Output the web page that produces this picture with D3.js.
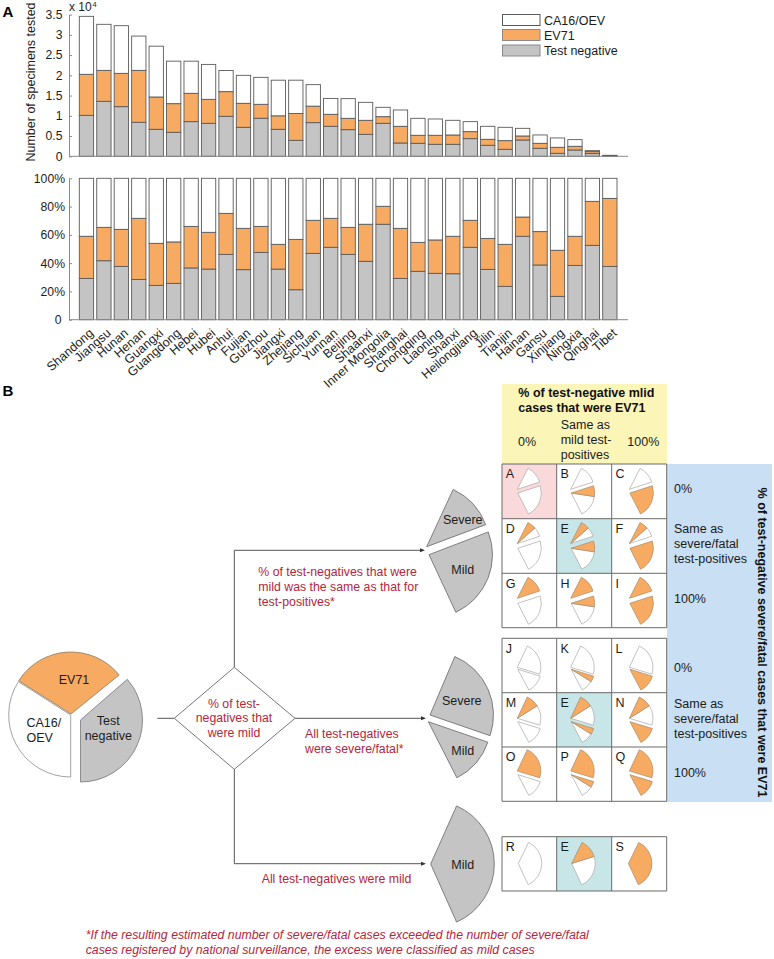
<!DOCTYPE html>
<html><head><meta charset="utf-8">
<script src="https://d3js.org/d3.v7.min.js"></script>
<style>html,body{margin:0;padding:0;background:#fff}svg{display:block}text{font-family:"Liberation Sans",Arial,sans-serif}</style>
</head><body><svg id="c" width="774" height="959"></svg>
<script>
// ---------- data ----------
const provinces = ["Shandong","Jiangsu","Hunan","Henan","Guangxi","Guangdong","Hebei","Hubei","Anhui","Fujian","Guizhou","Jiangxi","Zhejiang","Sichuan","Yunnan","Beijing","Shaanxi","Inner Mongolia","Shanghai","Chongqing","Liaoning","Shanxi","Heilongjiang","Jilin","Tianjin","Hainan","Gansu","Xinjiang","Ningxia","Qinghai","Tibet"];
// cumulative tops, units of 10^4 specimens
const countNegativeTop = [1.012,1.358,1.226,.84,.667,.593,.856,.815,.988,.716,.94,.667,.395,.831,.741,.658,.543,.815,.329,.321,.296,.296,.436,.272,.173,.403,.198,.074,.156,.066,.008];
const countEv71Top = [2.025,2.123,2.049,2.123,1.465,1.3,1.556,1.407,1.597,1.309,1.284,1,1.058,1.239,1.037,.938,.889,.979,.741,.519,.519,.527,.609,.42,.387,.502,.321,.222,.247,.115,.016];
const countTotal = [3.457,3.26,3.226,2.97,2.72,2.35,2.35,2.27,2.12,2,1.95,1.88,1.88,1.77,1.43,1.424,1.333,1.21,1.144,.938,.922,.889,.856,.741,.716,.691,.527,.453,.412,.14,.025];
// cumulative tops, percent
const pctNegativeTop = [29.2,41.7,37.7,28.5,24.3,25.7,36.6,35.8,46.2,35.4,47.6,35.8,21.2,46.9,51.2,46.2,41.3,67.5,29.2,34.2,32.8,32.5,51.2,35.6,23.6,59,38.7,16.5,38.4,52.6,37.7];
const pctEv71Top = [59,65.3,63.9,71.7,54,55,66,61.8,75.2,64.6,66,53.3,56.8,70.3,71.7,65.3,67.5,80.2,64.6,54.7,56.4,59,70.3,57.5,53.3,72.6,62.3,49.1,59,83.7,85.8];
const countTicks = [0,.5,1,1.5,2,2.5,3,3.5];
const pctTicks = [0,20,40,60,80,100];
const legendItems = ["CA16/OEV","EV71","Test negative"];
// scenario cells: share of severe and mild test-negative wedges that is EV71
const grid1 = [["A",0,0],["B",0,.33],["C",0,1],["D",.48,0],["E",.48,.33],["F",.48,1],["G",1,0],["H",1,.33],["I",1,1]];
const grid2 = [["J",0,0],["K",0,.33],["L",0,1],["M",.4,0],["E",.4,.33],["N",.4,1],["O",1,0],["P",1,.33],["Q",1,1]];
const grid3 = [["R",0],["E",.36],["S",1]];

// ---------- styles ----------
const ORANGE="#f7ab62", GREY="#c4c4c4", RED="#b5263c", INK="#1c1c1c", AXIS="#8a8a8a", EDGE="#5b5b5b";
const svg=d3.select("#c");
const rad=d=>d*Math.PI/180;
const arcGen=d3.arc().innerRadius(0);
function wedge(g,cx,cy,r,a0,a1,fill,stroke,sw){
  g.append("path").attr("transform",`translate(${cx},${cy})`)
   .attr("d",arcGen({outerRadius:r,startAngle:rad(a0),endAngle:rad(a1)}))
   .attr("fill",fill).attr("stroke",stroke).attr("stroke-width",sw).attr("stroke-linejoin","round");
}
function txt(x,y,s,o={}){
  const t=svg.append("text").attr("x",x).attr("y",y).text(s)
   .attr("font-size",o.size||12.5).attr("fill",o.fill||INK);
  if(o.anchor)t.attr("text-anchor",o.anchor);
  if(o.weight)t.attr("font-weight",o.weight);
  if(o.style)t.attr("font-style",o.style);
  return t;
}

// ---------- panel A ----------
const x=d3.scaleBand().domain(provinces).range([79.3,617]).paddingInner(.18).paddingOuter(0);
const yC=d3.scaleLinear().domain([0,3.5]).range([156.3,14.6]);
const yP=d3.scaleLinear().domain([0,100]).range([319.7,178.3]);
function stacks(neg,ev,tot,y){
  const g=svg.append("g");
  const layer=(lo,hi,fill)=>g.append("g").selectAll("rect").data(provinces).join("rect")
    .attr("x",d=>x(d)).attr("width",x.bandwidth())
    .attr("y",(d,i)=>y(hi(i))).attr("height",(d,i)=>y(lo(i))-y(hi(i)))
    .attr("fill",fill).attr("stroke",EDGE).attr("stroke-width",.9);
  layer(()=>0,i=>neg[i],GREY);
  layer(i=>neg[i],i=>ev[i],ORANGE);
  layer(i=>ev[i],i=>tot[i],"#fff");
}
stacks(countNegativeTop,countEv71Top,countTotal,yC);
stacks(pctNegativeTop,pctEv71Top,provinces.map(()=>100),yP);
function yAxis(scale,ticks,fmt,pad){
  const a=svg.append("g").attr("transform","translate(69,0)")
    .call(d3.axisLeft(scale).tickValues(ticks).tickFormat(fmt).tickSizeInner(-3).tickSizeOuter(0).tickPadding(pad));
  a.selectAll("path,line").attr("stroke",AXIS).attr("stroke-width",1);
  a.selectAll("text").attr("font-size",12.2).attr("font-family","Liberation Sans").attr("fill",INK);
  return a;
}
yAxis(yC,countTicks,d=>d,6.5);
yAxis(yP,pctTicks,d=>d===0?"0":d+"%",4).selectAll("text").attr("dx",d=>d===0?-3.5:0);
[yC(0),yP(0)].forEach(v=>svg.append("line").attr("x1",69).attr("x2",628).attr("y1",v).attr("y2",v).attr("stroke",AXIS).attr("stroke-width",1));
const xa=svg.append("g").attr("transform",`translate(0,${yP(0)})`)
  .call(d3.axisBottom(x).tickSize(0));
xa.select(".domain").remove();
xa.selectAll("text").attr("font-size",12.5).attr("font-family","Liberation Sans").attr("fill",INK)
  .attr("text-anchor","end").attr("transform","translate(2,8) rotate(-41)").attr("y",0).attr("dy","0.7em");
txt(30,82,"Number of specimens tested",{size:12.5,anchor:"middle"}).attr("transform","rotate(-90 30 82)").attr("y",86.5);
txt(69,11,"x 10",{size:12});
txt(92.5,7,"4",{size:7.5});
txt(2.5,17,"A",{size:15,weight:"bold",fill:"#000"});
txt(2.5,396,"B",{size:15,weight:"bold",fill:"#000"});
// legend
const legendFill=["#fff",ORANGE,GREY], legendY=[14.5,29.5,45];
legendItems.forEach((s,i)=>{
  svg.append("rect").attr("x",502.5).attr("y",legendY[i]).attr("width",37.5).attr("height",11)
    .attr("fill",legendFill[i]).attr("stroke",i==0?EDGE:"#8a8a8a").attr("stroke-width",1);
  txt(544,legendY[i]+10,s,{size:12.5});
});

// ---------- panel B backgrounds ----------
const rect=(a,b,w,h,f)=>svg.append("rect").attr("x",a).attr("y",b).attr("width",w).attr("height",h).attr("fill",f);
rect(502,384,165,80,"#fbf5b8");
rect(667,464,105,338,"#c9dff3");
const colX=[502,556.7,611.7,666.7];
const rowsA=[464,518.7,573.3,627.7], rowsB=[638.3,692.7,747,801.3], rowsC=[836.7,891];
rect(502,464,54.7,54.7,"#fad9da");
rect(556.7,518.7,55,54.6,"#c8e5e8");
rect(556.7,692.7,55,54.3,"#c8e5e8");
rect(556.7,836.7,55,54.3,"#c8e5e8");
function gridLines(rows){
  const g=svg.append("g").attr("stroke","#6a6a6a").attr("stroke-width",1);
  rows.forEach(v=>g.append("line").attr("x1",colX[0]).attr("x2",colX[3]).attr("y1",v).attr("y2",v));
  colX.forEach(v=>g.append("line").attr("x1",v).attr("x2",v).attr("y1",rows[0]).attr("y2",rows[rows.length-1]));
}
gridLines(rowsA);gridLines(rowsB);gridLines(rowsC);

// ---------- mini wedges ----------
const colDx=[15.3,14,17.7], R=23.5, MS="#a8a8a8";
function split(g,cx,cy,a0,a1,share){
  const am=a0+(a1-a0)*share;
  if(share<1) wedge(g,cx,cy,R,am,a1,"#fff",MS,.7);
  if(share>0) wedge(g,cx,cy,R,a0,am,ORANGE,"#a58a68",.7);
}
function gridWedges(cells,rows,sevA,midA,endA,sevDy,mildDy){
  cells.forEach((c,i)=>{
    const col=i%3,row=Math.floor(i/3),g=svg.append("g");
    const ox=colX[col]+colDx[col],oy=rows[row];
    split(g,ox,oy+sevDy[row],sevA,midA,c[1]);
    split(g,ox+.5,oy+mildDy[row],midA,endA,c[2]);
    txt(colX[col]+3.7,oy+14.4,c[0],{size:12.5});
  });
}
gridWedges(grid1,rowsA,27,72,153,[25.3,24.8,25],[29,29.6,30]);
gridWedges(grid2,rowsB,25,107,152,[29,25.6,24],[31,29,27.7]);
grid3.forEach((c,i)=>{
  const g=svg.append("g");
  split(g,colX[i]+[16.3,15,16.7][i],863.5,26,155,c[1]);
  txt(colX[i]+3.7,rowsC[0]+14.6,c[0],{size:12.5});
});

// ---------- large pie ----------
const pieG=svg.append("g");
wedge(pieG,70.7,715,62,-180,-57.5,"#fff","#8a8a8a",.8);
wedge(pieG,71,714,62,-57.5,51,ORANGE,"#8a7a66",.8);
wedge(pieG,80.5,720,62,49,180,GREY,"#777",.8);
txt(74,683.5,"EV71",{anchor:"middle",size:12.5});
txt(26.5,726.5,"CA16/",{size:12.5});
txt(26.5,741.5,"OEV",{size:12.5});
txt(108.3,725,"Test",{anchor:"middle",size:12.5});
txt(108.3,739.5,"negative",{anchor:"middle",size:12.5});

// ---------- flow chart ----------
const LN="#555";
const flow=svg.append("g").attr("fill","none").attr("stroke",LN).attr("stroke-width",1);
flow.append("path").attr("d","M234.3,667.3L295,718.3L234.3,769.3L174.3,718.3Z").attr("stroke","#777");
flow.append("path").attr("d","M157.3,718.3H174.3");
flow.append("path").attr("d","M234.3,667.3V550.3H421");
flow.append("path").attr("d","M295,718.3H423");
flow.append("path").attr("d","M234.3,769.3V863.7H423");
[[425,550.3],[426,718.3],[426,863.7]].forEach(p=>svg.append("path")
  .attr("d",`M${p[0]},${p[1]}l-5,-2v4Z`).attr("fill","#333"));
// fans
const fan=svg.append("g"), FS="#666";
wedge(fan,426.7,546.7,63,24.8,69.5,GREY,FS,.8);
wedge(fan,429,554.7,63.5,69,155,GREY,FS,.8);
wedge(fan,430,715,63.5,23,109,GREY,FS,.8);
wedge(fan,428.3,721.7,63,109,153,GREY,FS,.8);
wedge(fan,430.7,864,63.6,24,156,GREY,FS,.8);
[[462.7,523.5,"Severe"],[462.7,573.5,"Mild"],[461.7,705,"Severe"],[462.7,755,"Mild"],[462.7,868.5,"Mild"]]
  .forEach(d=>txt(d[0],d[1],d[2],{anchor:"middle",size:12.5}));

// ---------- red text ----------
const red={fill:RED,size:12.3};
[["% of test-",707.7],["negatives that",722.3],["were mild",737]].forEach(d=>txt(234,d[1],d[0],{...red,anchor:"middle"}));
[["% of test-negatives that were",576],["mild was the same as that for",591],["test-positives*",606]].forEach(d=>txt(258.3,d[1],d[0],red));
txt(305,738.3,"All test-negatives",red);
txt(305,752.7,"were severe/fatal*",red);
txt(261.7,882.7,"All test-negatives were mild",red);
txt(85.7,939,"*If the resulting estimated number of severe/fatal cases exceeded the number of severe/fatal",{...red,size:12.3,style:"italic"});
txt(85.7,954,"cases registered by national surveillance, the excess were classified as mild cases",{...red,size:12.3,style:"italic"});

// ---------- header text ----------
txt(518.3,397.3,"% of test-negative mlid",{size:12.5,weight:"bold",fill:"#111"});
txt(518.3,412.3,"cases that were EV71",{size:12.5,weight:"bold",fill:"#111"});
txt(518,446,"0%");
txt(560.7,429.3,"Same as");txt(560.7,444,"mild test-");txt(560.7,459,"positives");
txt(627.3,446,"100%");
[[492.7,"0%"],[533.3,"Same as"],[548.3,"severe/fatal"],[562.7,"test-positives"],[602.7,"100%"],
 [671.7,"0%"],[708.3,"Same as"],[723,"severe/fatal"],[738.3,"test-positives"],[776.7,"100%"]]
 .forEach(d=>txt(674,d[0],d[1]));
txt(0,0,"% of test-negative severe/fatal cases that were EV71",{size:12.5,weight:"bold",anchor:"middle",fill:"#111"})
  .attr("transform","translate(757.5,642.5) rotate(90)");
</script></body></html>
